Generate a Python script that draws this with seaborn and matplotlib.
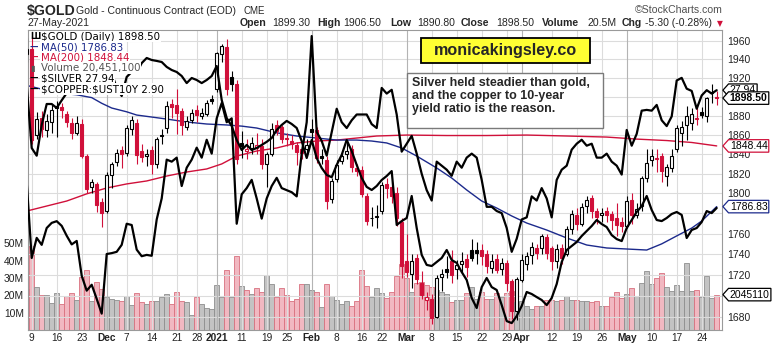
import numpy as np
import matplotlib
matplotlib.use("Agg")
import matplotlib.pyplot as plt
import matplotlib.transforms as mtransforms
from matplotlib.path import Path
from matplotlib.patches import Rectangle
from matplotlib.ticker import FixedLocator, FuncFormatter, NullLocator, NullFormatter
import seaborn as sns

# ---------------- data (trading days 6-Nov-2020 .. 27-May-2021) ----------------
opens = [1946, 1951, 1860, 1878, 1865, 1873, 1890, 1889, 1882, 1872,
         1862, 1871, 1838, 1806, 1810, 1791, 1782, 1819, 1832, 1844,
         1841, 1866, 1872, 1843, 1838, 1844, 1830, 1860, 1867, 1892,
         1891, 1885, 1868, 1875, 1886, 1880, 1882, 1898, 1908, 1946,
         1953, 1921, 1914, 1851, 1843, 1846, 1846, 1848, 1830, 1840,
         1870, 1868, 1857, 1854, 1849, 1845, 1845, 1866, 1865, 1838,
         1834, 1794, 1815, 1833, 1840, 1845, 1826, 1824, 1797, 1775,
         1776, 1782, 1810, 1806, 1800, 1772, 1733, 1721, 1736, 1712,
         1696, 1697, 1680, 1718, 1726, 1733, 1726, 1730, 1735, 1744,
         1744, 1744, 1740, 1727, 1735, 1726, 1731, 1714, 1686, 1715,
         1730, 1739, 1746, 1746, 1757, 1746, 1733, 1746, 1740, 1765,
         1778, 1770, 1787, 1795, 1782, 1778, 1782, 1779, 1775, 1772,
         1768, 1793, 1778, 1787, 1816, 1834, 1835, 1838, 1818, 1826,
         1845, 1862, 1870, 1872, 1876, 1884, 1880, 1905, 1899.3]
highs = [1963, 1965, 1884, 1885, 1882, 1892, 1895, 1893, 1885, 1878,
         1880, 1876, 1840, 1815, 1812, 1795, 1822, 1832, 1845, 1848,
         1870, 1880, 1876, 1850, 1845, 1848, 1858, 1866, 1895, 1897,
         1908, 1888, 1880, 1887, 1891, 1888, 1896, 1902, 1948, 1957,
         1962, 1927, 1918, 1864, 1856, 1858, 1862, 1856, 1842, 1872,
         1875, 1870, 1862, 1860, 1852, 1849, 1856, 1876, 1868, 1845,
         1838, 1816, 1834, 1842, 1855, 1849, 1830, 1828, 1800, 1786,
         1788, 1812, 1816, 1812, 1806, 1775, 1760, 1740, 1740, 1724,
         1704, 1702, 1720, 1726, 1738, 1744, 1734, 1742, 1740, 1755,
         1752, 1750, 1744, 1740, 1740, 1736, 1734, 1716, 1718, 1740,
         1742, 1752, 1750, 1760, 1760, 1748, 1750, 1750, 1768, 1783,
         1785, 1790, 1797, 1798, 1785, 1785, 1786, 1782, 1790, 1776,
         1797, 1800, 1790, 1818, 1845, 1845, 1845, 1841, 1830, 1845,
         1870, 1874, 1890, 1888, 1890, 1889, 1900, 1913, 1906.5]
lows = [1937, 1850, 1856, 1858, 1858, 1862, 1858, 1878, 1868, 1856,
        1860, 1836, 1800, 1800, 1781, 1767, 1780, 1805, 1828, 1826,
        1838, 1860, 1830, 1832, 1828, 1820, 1826, 1850, 1862, 1878,
        1861, 1860, 1865, 1872, 1873, 1876, 1880, 1892, 1905, 1937,
        1902, 1906, 1830, 1836, 1835, 1840, 1840, 1825, 1806, 1838,
        1860, 1851, 1848, 1845, 1829, 1835, 1838, 1849, 1831, 1830,
        1784, 1790, 1812, 1830, 1835, 1822, 1818, 1796, 1769, 1768,
        1766, 1779, 1795, 1790, 1768, 1717, 1718, 1707, 1711, 1697,
        1687, 1673, 1679, 1705, 1717, 1712, 1716, 1722, 1718, 1733,
        1730, 1729, 1722, 1722, 1722, 1720, 1705, 1678, 1677, 1713,
        1725, 1730, 1735, 1740, 1735, 1725, 1727, 1730, 1738, 1760,
        1764, 1768, 1780, 1775, 1770, 1772, 1772, 1764, 1758, 1762,
        1766, 1770, 1775, 1782, 1812, 1828, 1822, 1812, 1808, 1822,
        1842, 1848, 1855, 1865, 1870, 1877, 1873, 1893, 1890.8]
closes = [1951.7, 1854.4, 1876.0, 1866.4, 1873.9, 1886.2, 1887.8, 1885.4, 1873.6, 1861.6,
          1872.4, 1837.8, 1804.6, 1811.2, 1788.1, 1780.9, 1818.9, 1830.2, 1841.1, 1840.0,
          1866.8, 1874.9, 1839.1, 1836.8, 1840.0, 1830.0, 1855.8, 1858.2, 1890.1, 1888.9,
          1882.9, 1870.3, 1874.4, 1883.2, 1880.4, 1882.5, 1893.4, 1895.1, 1946.6, 1954.4,
          1908.6, 1913.6, 1835.4, 1848.0, 1845.0, 1851.0, 1849.0, 1829.9, 1840.2, 1866.0,
          1864.0, 1856.0, 1855.2, 1850.9, 1842.5, 1841.0, 1849.5, 1863.3, 1835.5, 1836.0,
          1792.0, 1813.0, 1829.0, 1838.0, 1843.0, 1827.0, 1823.2, 1799.4, 1772.8, 1775.1,
          1777.4, 1808.4, 1805.9, 1797.9, 1775.4, 1728.8, 1723.0, 1733.6, 1715.6, 1700.7,
          1698.5, 1679.0, 1716.6, 1721.2, 1722.6, 1719.8, 1729.0, 1733.5, 1727.3, 1736.0,
          1741.2, 1738.2, 1728.4, 1733.6, 1725.1, 1731.0, 1712.1, 1685.9, 1715.6, 1734.0,
          1738.0, 1747.0, 1741.0, 1757.5, 1741.0, 1733.0, 1745.0, 1736.0, 1764.3, 1779.0,
          1770.0, 1786.0, 1793.6, 1782.8, 1776.6, 1780.8, 1778.1, 1773.4, 1768.1, 1767.7,
          1792.0, 1778.8, 1784.3, 1815.4, 1831.3, 1837.6, 1836.1, 1822.9, 1826.8, 1838.1,
          1866.8, 1868.6, 1880.0, 1882.0, 1878.0, 1881.0, 1898.9, 1903.8, 1898.5]
volume_m = [23.8, 48.3, 24.7, 20.3, 20.3, 15.7, 21.5, 15.1, 19.8, 21.5,
            17.5, 30.9, 34.8, 17.0, 27.5, 23.7, 19.3, 18.0, 17.6, 16.5,
            19.8, 14.6, 21.5, 15.9, 14.8, 16.5, 16.5, 19.3, 21.0, 14.8,
            21.9, 17.0, 15.9, 8.8, 19.3, 14.8, 12.8, 12.3, 26.2, 19.3,
            34.8, 19.3, 42.5, 25.6, 23.3, 21.0, 24.4, 22.0, 32.0, 26.6,
            19.3, 24.0, 20.5, 16.5, 18.0, 26.8, 26.8, 23.2, 22.0, 13.3,
            26.6, 19.8, 17.1, 14.8, 17.0, 14.0, 17.0, 34.5, 25.3, 19.3,
            24.4, 21.6, 18.5, 21.8, 31.0, 38.0, 30.0, 22.2, 27.0, 27.5,
            26.0, 25.0, 23.0, 22.0, 20.8, 16.4, 17.3, 17.1, 21.2, 24.6,
            18.0, 21.8, 18.0, 18.0, 21.2, 19.3, 21.2, 22.7, 16.4, 16.6,
            14.1, 12.3, 14.1, 14.1, 17.5, 17.1, 16.9, 17.1, 19.4, 17.5,
            17.5, 16.6, 16.6, 16.4, 16.6, 14.0, 14.0, 18.8, 22.0, 18.5,
            21.0, 24.0, 19.4, 27.4, 34.0, 26.4, 30.3, 33.2, 25.0, 22.8,
            26.0, 22.4, 38.5, 22.4, 23.3, 19.3, 31.0, 18.6, 20.45]
silver = [25.6, 23.81, 24.27, 24.11, 24.5, 24.62, 24.66, 24.55, 24.32, 24.12,
          24.2, 23.41, 23.08, 23.21, 22.9, 22.58, 23.9, 23.92, 23.95, 24.11,
          24.6, 24.57, 24.0, 23.85, 23.88, 23.86, 24.7, 25.2, 26.15, 26.1,
          26.2, 25.5, 25.95, 26.15, 26.45, 26.2, 26.65, 26.3, 27.2, 27.6,
          27.1, 27.2, 24.6, 25.3, 25.45, 25.65, 25.2, 24.72, 25.2, 25.5,
          25.7, 25.45, 25.4, 25.35, 25.25, 26.3, 27.1, 29.42, 26.85, 26.62,
          26.25, 26.85, 27.45, 27.1, 26.95, 27.15, 27.3, 27.3, 27.3, 27.05,
          26.95, 28.0, 27.85, 27.95, 27.3, 26.35, 26.55, 26.75, 26.3, 25.8,
          25.4, 25.15, 26.1, 26.0, 25.9, 25.75, 26.1, 25.95, 26.2, 26.3,
          26.2, 25.65, 25.0, 25.0, 24.9, 24.85, 24.5, 23.95, 24.25, 24.7,
          24.75, 25.25, 25.15, 25.45, 25.2, 24.75, 25.65, 25.9, 26.0, 26.4,
          26.55, 26.65, 26.5, 26.55, 26.2, 26.2, 26.3, 26.1, 26.0, 25.78,
          26.9, 26.5, 26.8, 27.4, 27.42, 27.4, 27.55, 27.15, 27.0, 27.25,
          28.2, 28.27, 27.98, 27.92, 27.45, 27.8, 27.94, 27.85, 27.94]
copper_ust10y = [3.70, 3.29, 3.24, 3.44, 3.576, 3.576, 3.55, 3.60, 3.647, 3.70,
                 3.80, 3.86, 3.89, 3.93, 3.99, 3.93, 3.667, 3.778, 3.68, 3.628,
                 3.752, 3.784, 3.778, 3.842, 3.875, 3.862, 3.856, 3.849, 3.817, 3.797,
                 3.784, 3.758, 3.712, 3.745, 3.732, 3.712, 3.732, 3.758, 3.823, 3.602,
                 3.485, 3.433, 3.342, 3.277, 3.31, 3.277, 3.29, 3.31, 3.33, 3.355,
                 3.407, 3.44, 3.466, 3.446, 3.42, 3.335, 3.225, 3.342, 3.225, 3.16,
                 3.115, 3.10, 3.18, 3.245, 3.342, 3.27, 3.18, 3.095, 3.037, 3.017,
                 3.043, 3.082, 3.108, 3.14, 2.79, 2.815, 2.835, 2.978, 2.77, 2.595,
                 2.53, 2.523, 2.549, 2.575, 2.627, 2.562, 2.543, 2.484, 2.432, 2.315,
                 2.25, 2.386, 2.445, 2.386, 2.367, 2.269, 2.165, 2.152, 2.198, 2.263,
                 2.354, 2.341, 2.321, 2.302, 2.269, 2.315, 2.406, 2.549, 2.627, 2.653,
                 2.679, 2.718, 2.75, 2.783, 2.822, 2.796, 2.776, 2.724, 2.698, 2.685,
                 2.77, 2.822, 2.874, 2.913, 2.978, 2.887, 2.822, 2.815, 2.835, 2.861,
                 2.874, 2.855, 2.705, 2.757, 2.77, 2.809, 2.88, 2.867, 2.90]
ma50_idx = [0, 3, 6, 10, 13, 15, 17, 20, 22, 25, 28, 32, 36, 40, 43, 46, 50, 54, 58, 62,
            66, 69, 72, 75, 78, 82, 85, 88, 91, 94, 97, 100, 104, 108, 112, 116, 120, 124,
            127, 130, 133, 135, 138]
ma50_val = [1912, 1908, 1904, 1902, 1899, 1893, 1888, 1884, 1880.6, 1878.5, 1876.4, 1873.3,
            1871.2, 1870.2, 1869, 1867, 1862, 1858.7, 1856.6, 1854.5, 1854.5, 1853.5, 1851.5,
            1846.3, 1838, 1825.8, 1815.6, 1803.5, 1792.4, 1785.4, 1777.5, 1770.5, 1763.6,
            1755.8, 1748.9, 1746, 1745, 1744, 1750, 1757.8, 1765.5, 1772.5, 1786.83]
ma200_idx = [0, 4, 8, 12, 16, 20, 24, 28, 32, 36, 39, 42, 46, 50, 54, 58, 62, 66, 70, 76,
             84, 92, 100, 108, 116, 122, 128, 133, 138]
ma200_val = [1782.4, 1787.4, 1792.4, 1799.6, 1805.5, 1809.6, 1812.6, 1817.6, 1821.7, 1824.8,
             1829.9, 1838, 1843.2, 1846.3, 1851.5, 1853.5, 1854.5, 1856.6, 1858.7, 1859.7,
             1859.2, 1859.2, 1859.7, 1858.7, 1857.6, 1855.5, 1854, 1852, 1848.44]
tick_idx = [1, 6, 11, 16, 20, 25, 30, 34, 38, 43, 48, 52, 57, 62, 67, 71, 76, 81, 86, 91,
            96, 99, 105, 110, 115, 120, 125, 130, 135]
tick_labels = ['9', '16', '23', 'Dec', '7', '14', '21', '28', '2021', '11', '19', '25', 'Feb',
               '8', '16', '22', 'Mar', '8', '15', '22', '29', 'Apr', '12', '19', '26', 'May',
               '10', '17', '24']
price_ticks = [1680, 1700, 1720, 1740, 1760, 1780, 1800, 1820, 1840, 1860, 1880, 1900,
               1920, 1940, 1960]
hidden_price_labels = [1700, 1780, 1900]   # covered by the value tags in the reference
vol_ticks = [10, 20, 30, 40, 50]

# ---------------- figure ----------------
W, H = 776, 346
sns.set_theme(style="white")
plt.rcParams['font.family'] = ['Liberation Sans', 'DejaVu Sans']

fig = plt.figure(figsize=(W / 100, H / 100), dpi=100)
fig.patch.set_facecolor('white')


def fx(px):
    return px / W


def fy(py):
    return 1 - py / H


L, R, T, B = 28, 722, 30, 330
rect = [fx(L), fy(B), fx(R) - fx(L), fy(T) - fy(B)]
XL = (0.26, 139.06)

ax_v = fig.add_axes(rect)
ax_p = fig.add_axes(rect, facecolor='none')
ax_s = fig.add_axes(rect, facecolor='none')
ax_c = fig.add_axes(rect, facecolor='none')

n = len(closes)
x = np.arange(n)
c = np.array(closes, dtype=float)
o = np.array(opens, dtype=float)
prev = np.r_[c[0] - 1.0, c[:-1]]
up = c >= prev

RED = '#d0103a'
NAVY = '#1c2a8c'

# ---- volume ----
vfill = np.where(up, '#c3c3c3', '#f1b8c1')
vedge = np.where(up, '#8e8e8e', '#d9707f')
ax_v.set_facecolor('white')
ax_v.bar(x, volume_m, width=1.0, color=vfill, edgecolor=vedge, linewidth=0.6)
ax_v.set_ylim(0, 173.4)
ax_v.set_xlim(*XL)
ax_v.set_xticks([])
ax_v.yaxis.set_major_locator(FixedLocator(vol_ticks))
ax_v.yaxis.set_major_formatter(FuncFormatter(lambda v, p: f"{v:.0f}M"))
ax_v.tick_params(axis='y', length=0, pad=3, labelsize=7.4, colors='#222222')
for sp in ax_v.spines.values():
    sp.set_visible(False)

# ---- price ----
ax_p.set_yscale('log')
for t in price_ticks:
    ax_p.axhline(t, color='#dcdcdc', lw=0.8, zorder=0)
for ti, tl in zip(tick_idx, tick_labels):
    month = (not tl.isdigit()) or tl == '2021'
    ax_p.axvline(ti, color='#b4b4b4' if month else '#dcdcdc', lw=0.8, zorder=0)

sns.lineplot(x=ma200_idx, y=ma200_val, ax=ax_p, color=RED, lw=1.0, zorder=2)
sns.lineplot(x=ma50_idx, y=ma50_val, ax=ax_p, color=NAVY, lw=1.0, zorder=2)

ccol = np.where(up, 'black', RED)
filled = c < o
face = [cc if f else 'white' for cc, f in zip(ccol, filled)]
ax_p.vlines(x, lows, highs, colors=ccol, lw=0.8, zorder=3)
bottoms = np.minimum(o, c)
heights = np.maximum(np.abs(c - o), 0.9)
ax_p.bar(x, heights, bottom=bottoms, width=0.7, color=face, edgecolor=ccol,
         linewidth=0.8, zorder=4)

ax_p.set_xlim(*XL)
ax_p.set_ylim(1667.8, 1972.1)
ax_p.yaxis.set_major_locator(FixedLocator(price_ticks))
ax_p.yaxis.set_major_formatter(
    FuncFormatter(lambda v, p: '' if round(v) in hidden_price_labels else f"{v:.0f}"))
ax_p.yaxis.set_minor_locator(NullLocator())
ax_p.yaxis.set_minor_formatter(NullFormatter())
ax_p.yaxis.tick_right()
ax_p.tick_params(axis='y', length=0, pad=4, labelsize=7.5, colors='#222222')
ax_p.set_xticks(tick_idx)
ax_p.set_xticklabels(tick_labels)
ax_p.tick_params(axis='x', length=0, pad=2.5, labelsize=7.3, colors='#222222')
for lab in ax_p.get_xticklabels():
    t = lab.get_text()
    if (not t.isdigit()) or t == '2021':
        lab.set_fontweight('bold')
ax_p.set_xlabel('')
ax_p.set_ylabel('')
for sp in ax_p.spines.values():
    sp.set_color('#9a9a9a')
    sp.set_linewidth(0.8)

# ---- overlays ----
ax_s.set_yscale('log')
sns.lineplot(x=x, y=silver, ax=ax_s, color='black', lw=1.6)
ax_s.set_xlim(*XL)
ax_s.set_ylim(22.23, 29.59)
ax_s.axis('off')

sns.lineplot(x=x, y=copper_ust10y, ax=ax_c, color='black', lw=1.6)
ax_c.set_xlim(*XL)
ax_c.set_ylim(2.107, 4.057)
ax_c.axis('off')


# ---- value tags on the right ----
def tag_path(x0, y0, width, height, mutation_size):
    pad = 0.12 * mutation_size
    x0, y0 = x0 - pad, y0 - pad
    width, height = width + 2 * pad, height + 2 * pad
    tip = height * 0.45
    verts = [(x0 - tip, y0 + height / 2), (x0, y0 + height), (x0 + width, y0 + height),
             (x0 + width, y0), (x0, y0), (x0 - tip, y0 + height / 2)]
    return Path(verts, closed=True)


def tag(ax_y, value, text, ec, weight='normal'):
    tr = mtransforms.blended_transform_factory(ax_c.transAxes, ax_y.transData)
    ax_c.annotate(text, xy=(1.0, value), xycoords=tr, xytext=(5.6, 0),
                  textcoords='offset points', ha='left', va='center', fontsize=7.5,
                  fontweight=weight, color='black',
                  bbox=dict(boxstyle=tag_path, fc='white', ec=ec, lw=0.9),
                  annotation_clip=False, zorder=10)


tag(ax_v, volume_m[-1], '2045110', 'black')
tag(ax_p, ma50_val[-1], f"{ma50_val[-1]:.2f}", NAVY)
tag(ax_p, ma200_val[-1], f"{ma200_val[-1]:.2f}", RED)
tag(ax_s, silver[-1], f"{silver[-1]:.2f}", 'black')
tag(ax_p, closes[-1], f"{closes[-1]:.2f}", 'black', 'bold')

# ---- legend inside plot ----
leg_rows = [36.5, 47.0, 57.5, 68.0, 78.5, 89.0]
leg_text = [r'\$GOLD (Daily) 1898.50', 'MA(50) 1786.83', 'MA(200) 1848.44',
            'Volume 20,451,100', r'\$SILVER 27.94', r'\$COPPER:\$UST10Y 2.90']
leg_col = ['black', NAVY, RED, '#555555', 'black', 'black']
leg_mark = ['Ш', '—', '—', '▮', '—', '—']
for yy, tx, col, mk in zip(leg_rows, leg_text, leg_col, leg_mark):
    fig.text(fx(41), fy(yy), tx, fontsize=7.4, color=col, va='center', ha='left',
             family=['DejaVu Sans'],
             bbox=dict(facecolor='white', edgecolor='none', pad=0.6))
    fig.text(fx(30), fy(yy), mk, fontsize=6.0, color=col, va='center', ha='left',
             family=['DejaVu Sans'], fontweight='bold')

# ---- header ----
fig.text(fx(27), fy(10.5), r'\$GOLD', fontsize=10.2, fontweight='bold', va='center', ha='left')
fig.text(fx(76), fy(11), 'Gold - Continuous Contract (EOD)', fontsize=7.6, va='center', ha='left')
fig.text(fx(243), fy(11), 'CME', fontsize=7.0, va='center', ha='left')
fig.text(fx(28), fy(23.5), '27-May-2021', fontsize=7.6, va='center', ha='left')
fig.text(fx(635), fy(10), '©StockCharts.com', fontsize=7.6, color='#505050',
         va='center', ha='left')
stats = [(240, 'Open', True), (272, '1899.30', False), (317, 'High', True),
         (343, '1906.50', False), (390, 'Low', True), (417, '1890.80', False),
         (461, 'Close', True), (496, '1898.50', False), (542, 'Volume', True),
         (587, '20.5M', False), (622, 'Chg', True), (645, '-5.30 (-0.28%)', False)]
for px, tx, bold in stats:
    fig.text(fx(px), fy(23.5), tx, fontsize=7.6, fontweight='bold' if bold else 'normal',
             va='center', ha='left')
fig.text(fx(717), fy(23.5), '▼', fontsize=5.5, color=RED, va='center', ha='left',
         family=['DejaVu Sans'])

# ---- annotation boxes ----
fig.patches.append(Rectangle((fx(421), fy(63)), fx(590) - fx(421), fy(38) - fy(63),
                             transform=fig.transFigure, facecolor='#ffff33',
                             edgecolor='black', lw=1.3, zorder=5))
fig.text(fx(505.5), fy(50.5), 'monicakingsley.co', fontsize=11.6, fontweight='bold',
         va='center', ha='center', zorder=6)
fig.patches.append(Rectangle((fx(407), fy(128)), fx(603) - fx(407), fy(73) - fy(128),
                             transform=fig.transFigure, facecolor='white',
                             edgecolor='#7a7a7a', lw=1.0, zorder=5))
fig.text(fx(412), fy(77), 'Silver held steadier than gold,\nand the copper to 10-year\n'
         'yield ratio is the reason.', fontsize=9.0, fontweight='bold', va='top',
         ha='left', linespacing=1.12, zorder=6)

fig.savefig('out.png', dpi=100, facecolor='white')
